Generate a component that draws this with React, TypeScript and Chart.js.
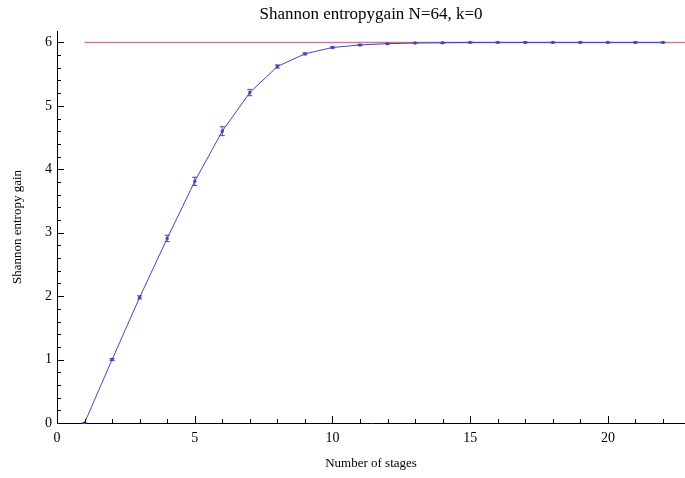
import React, { useEffect, useRef } from "react";
import { Chart, registerables } from "chart.js";

Chart.register(...registerables);

const stages = [1, 2, 3, 4, 5, 6, 7, 8, 9, 10, 11, 12, 13, 14, 15, 16, 17, 18, 19, 20, 21, 22];
const entropyGain = [0, 1.0, 1.98, 2.91, 3.81, 4.6, 5.21, 5.62, 5.82, 5.92, 5.96, 5.98, 5.99, 5.995, 6.0, 6.0, 6.0, 6.0, 6.0, 6.0, 6.0, 6.0];
const entropyError = [0, 0.015, 0.025, 0.05, 0.065, 0.07, 0.05, 0.025, 0.015, 0.01, 0.006, 0.005, 0.005, 0.005, 0.005, 0.005, 0.005, 0.005, 0.005, 0.005, 0.005, 0.005];
const maxEntropyX = [1, 23];
const maxEntropyY = [6, 6];
const xRange = [0, 22.8];
const yRange = [0, 6.18];
const xMajorStep = 5;
const xMinorStep = 1;
const yMajorStep = 1;
const yMinorStep = 0.2;

const TITLE = "Shannon entropygain N=64, k=0";
const X_TITLE = "Number of stages";
const Y_TITLE = "Shannon entropy gain";

const SERIF = "'Liberation Serif', 'DejaVu Serif', serif";
const BLUE = "#4646b4";
const PINK = "rgb(196,128,164)";

const errorBarPlugin = {
  id: "errorBars",
  afterDatasetsDraw(chart: any) {
    const { ctx } = chart;
    const xs = chart.scales.x;
    const ys = chart.scales.y;
    ctx.save();
    ctx.strokeStyle = BLUE;
    ctx.lineWidth = 1;
    stages.forEach((s, i) => {
      const px = xs.getPixelForValue(s);
      const top = ys.getPixelForValue(entropyGain[i] + entropyError[i]);
      const bot = ys.getPixelForValue(entropyGain[i] - entropyError[i]);
      const cap = 2.5;
      ctx.beginPath();
      ctx.moveTo(px, top);
      ctx.lineTo(px, bot);
      ctx.moveTo(px - cap, top);
      ctx.lineTo(px + cap, top);
      ctx.moveTo(px - cap, bot);
      ctx.lineTo(px + cap, bot);
      ctx.stroke();
    });
    ctx.restore();
  },
};

const inwardTicksPlugin = {
  id: "inwardTicks",
  afterDraw(chart: any) {
    const { ctx, chartArea } = chart;
    const xs = chart.scales.x;
    const ys = chart.scales.y;
    ctx.save();
    ctx.strokeStyle = "#000";
    ctx.lineWidth = 1;
    ctx.beginPath();
    const nx = Math.floor((xRange[1] - xRange[0]) / xMinorStep + 1e-6);
    for (let k = 0; k <= nx; k++) {
      const v = xRange[0] + k * xMinorStep;
      const px = Math.round(xs.getPixelForValue(v)) + 0.5;
      const major = Math.abs(v / xMajorStep - Math.round(v / xMajorStep)) < 1e-6;
      const len = major ? 7 : 4;
      ctx.moveTo(px, chartArea.bottom);
      ctx.lineTo(px, chartArea.bottom - len);
    }
    const ny = Math.floor((yRange[1] - yRange[0]) / yMinorStep + 1e-6);
    for (let k = 0; k <= ny; k++) {
      const v = yRange[0] + k * yMinorStep;
      const py = Math.round(ys.getPixelForValue(v)) + 0.5;
      const major = Math.abs(v / yMajorStep - Math.round(v / yMajorStep)) < 1e-6;
      const len = major ? 7 : 4;
      ctx.moveTo(chartArea.left, py);
      ctx.lineTo(chartArea.left + len, py);
    }
    ctx.stroke();
    ctx.restore();
  },
};

export default function App() {
  const ref = useRef<HTMLCanvasElement | null>(null);

  useEffect(() => {
    if (!ref.current) return;
    const chart = new Chart(ref.current, {
      type: "line",
      data: {
        datasets: [
          {
            label: "gain",
            data: stages.map((s, i) => ({ x: s, y: entropyGain[i] })),
            borderColor: BLUE,
            backgroundColor: BLUE,
            borderWidth: 1,
            pointRadius: 1.7,
            pointBorderWidth: 0,
            pointBackgroundColor: BLUE,
            tension: 0,
          },
          {
            label: "max",
            data: maxEntropyX.map((x, i) => ({ x, y: maxEntropyY[i] })),
            borderColor: PINK,
            borderWidth: 1.5,
            pointRadius: 0,
          },
        ],
      },
      options: {
        animation: false,
        responsive: false,
        layout: { padding: 0 },
        plugins: {
          legend: { display: false },
          tooltip: { enabled: false },
          title: {
            display: true,
            text: TITLE,
            fullSize: false,
            color: "#000",
            font: { family: SERIF, size: 17, weight: "normal" },
            padding: { top: 4, bottom: 6.6 },
          },
        },
        scales: {
          x: {
            type: "linear",
            min: xRange[0],
            max: xRange[1],
            grid: { display: false, drawTicks: false, tickLength: 0 },
            border: { display: true, color: "#000", width: 1 },
            ticks: {
              stepSize: xMajorStep,
              includeBounds: false,
              color: "#000",
              font: { family: SERIF, size: 14 },
              padding: 7,
              maxRotation: 0,
            },
            title: {
              display: true,
              text: X_TITLE,
              color: "#000",
              font: { family: SERIF, size: 13 },
              padding: { top: 0, bottom: 7 },
            },
            afterFit(scale: any) {
              scale.height = 55;
            },
          },
          y: {
            type: "linear",
            min: yRange[0],
            max: yRange[1],
            grid: { display: false, drawTicks: false, tickLength: 0 },
            border: { display: true, color: "#000", width: 1 },
            ticks: {
              stepSize: yMajorStep,
              includeBounds: false,
              color: "#000",
              font: { family: SERIF, size: 14 },
              padding: 5,
            },
            title: {
              display: true,
              text: Y_TITLE,
              color: "#000",
              font: { family: SERIF, size: 13 },
              padding: { top: 10, bottom: 0 },
            },
            afterFit(scale: any) {
              scale.width = 57;
            },
          },
        },
      },
      plugins: [errorBarPlugin, inwardTicksPlugin],
    });
    return () => chart.destroy();
  }, []);

  return (
    <div style={{ position: "fixed", left: 0, top: 0, width: 685, height: 478, overflow: "hidden", background: "#fff" }}>
      <canvas ref={ref} width={689} height={478} style={{ display: "block" }} />
    </div>
  );
}
